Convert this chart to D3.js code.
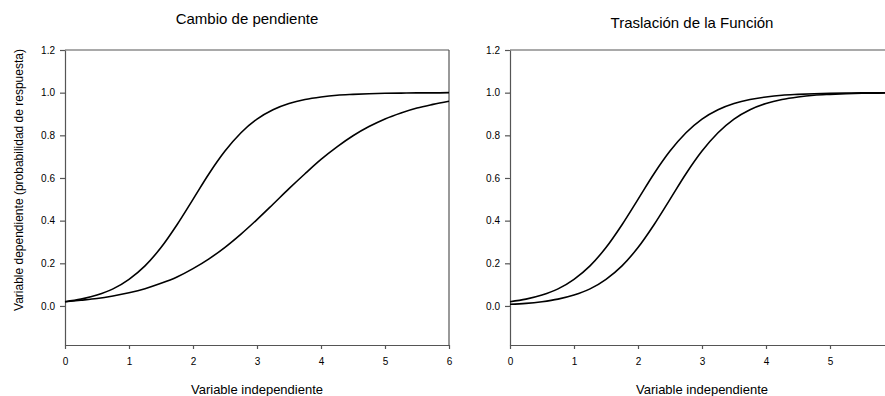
<!DOCTYPE html>
<html>
<head>
<meta charset="utf-8">
<script src="https://d3js.org/d3.v7.min.js"></script>
<style>
  body { margin: 0; background: #fff; }
  text { font-family: "Liberation Sans", Arial, sans-serif; fill: #000; }
</style>
</head>
<body>
<svg id="chart" width="885" height="396"></svg>
<script>
// values (probability of response vs independent variable)
const xValues = [0, 0.25, 0.5, 0.75, 1, 1.25, 1.5, 1.75, 2, 2.25, 2.5, 2.75, 3,
                 3.25, 3.5, 3.75, 4, 4.25, 4.5, 4.75, 5, 5.25, 5.5, 5.75, 6];

// left panel: "Cambio de pendiente"
const steepCurve = [0.020, 0.032, 0.051, 0.080, 0.125, 0.188, 0.274, 0.381, 0.500, 0.620, 0.726, 0.812, 0.876,
                    0.920, 0.949, 0.968, 0.980, 0.988, 0.992, 0.995, 0.997, 0.998, 0.999, 0.999, 1.000];
const flatCurve = [0.020, 0.027, 0.035, 0.047, 0.062, 0.081, 0.106, 0.136, 0.175, 0.221, 0.275, 0.337, 0.405,
                   0.477, 0.550, 0.620, 0.687, 0.746, 0.798, 0.841, 0.877, 0.905, 0.928, 0.945, 0.960];

// right panel: "Traslación de la Función"
const baseCurve = [0.020, 0.032, 0.051, 0.080, 0.125, 0.188, 0.274, 0.381, 0.500, 0.620, 0.726, 0.812, 0.876,
                   0.920, 0.949, 0.968, 0.980, 0.988, 0.992, 0.995, 0.997, 0.998, 0.999, 0.999, 1.000];
const shiftedCurve = [0.008, 0.012, 0.020, 0.032, 0.051, 0.080, 0.125, 0.188, 0.274, 0.381, 0.500, 0.620, 0.726,
                      0.812, 0.876, 0.920, 0.949, 0.968, 0.980, 0.988, 0.992, 0.995, 0.997, 0.998, 0.999];

const yTicks = [0, 0.2, 0.4, 0.6, 0.8, 1.0, 1.2];
const xTicksLeft = [0, 1, 2, 3, 4, 5, 6];
const xTicksRight = [0, 1, 2, 3, 4, 5];
const xLabel = "Variable independiente";
const yLabel = "Variable dependiente (probabilidad de respuesta)";

const svg = d3.select("svg#chart");
const plotTop = 50, plotBottom = 345;

function drawPanel(left, right, title, titleX, titleY, xTicks, series, frameRight) {
  const x = d3.scaleLinear().domain([0, 6]).range([left, right]);
  const y = d3.scaleLinear().domain([-0.183, 1.2]).range([plotBottom, plotTop]);

  // frame: top line, and right line if visible
  svg.append("line")
    .attr("x1", left).attr("x2", right)
    .attr("y1", plotTop).attr("y2", plotTop)
    .attr("stroke", "#555").attr("stroke-width", 1.2);
  if (frameRight) {
    svg.append("line")
      .attr("x1", right).attr("x2", right)
      .attr("y1", plotTop).attr("y2", plotBottom)
      .attr("stroke", "#555").attr("stroke-width", 1.2);
  }

  const yAxis = svg.append("g")
    .attr("transform", `translate(${left},0)`)
    .call(d3.axisLeft(y).tickValues(yTicks).tickFormat(d3.format(".1f"))
      .tickSize(5).tickSizeOuter(0).tickPadding(5));

  const xAxis = svg.append("g")
    .attr("transform", `translate(0,${plotBottom})`)
    .call(d3.axisBottom(x).tickValues(xTicks).tickFormat(d3.format("d"))
      .tickSize(4).tickSizeOuter(0).tickPadding(9));

  [yAxis, xAxis].forEach(a => {
    a.select(".domain").attr("stroke", "#555").attr("stroke-width", 1.2);
    a.selectAll(".tick line").attr("stroke", "#555").attr("stroke-width", 1.2);
    a.selectAll(".tick text").attr("font-size", 10).attr("font-family", "Liberation Sans, Arial, sans-serif");
  });

  const line = d3.line()
    .x((d, i) => x(xValues[i]))
    .y(d => y(d))
    .curve(d3.curveMonotoneX);

  series.forEach(s => {
    svg.append("path")
      .datum(s)
      .attr("d", line)
      .attr("fill", "none")
      .attr("stroke", "#000")
      .attr("stroke-width", 1.6);
  });

  svg.append("text")
    .attr("x", titleX).attr("y", titleY)
    .attr("text-anchor", "middle")
    .attr("font-size", 15)
    .text(title);

  svg.append("text")
    .attr("x", x(3)).attr("y", 394)
    .attr("text-anchor", "middle")
    .attr("font-size", 13)
    .text(xLabel);
}

drawPanel(65, 449, "Cambio de pendiente", 247, 24, xTicksLeft, [steepCurve, flatCurve], true);
drawPanel(510, 894, "Traslación de la Función", 692, 28, xTicksRight, [baseCurve, shiftedCurve], false);

svg.append("text")
  .attr("transform", "translate(23,180) rotate(-90)")
  .attr("text-anchor", "middle")
  .attr("font-size", 12)
  .text(yLabel);
</script>
</body>
</html>
